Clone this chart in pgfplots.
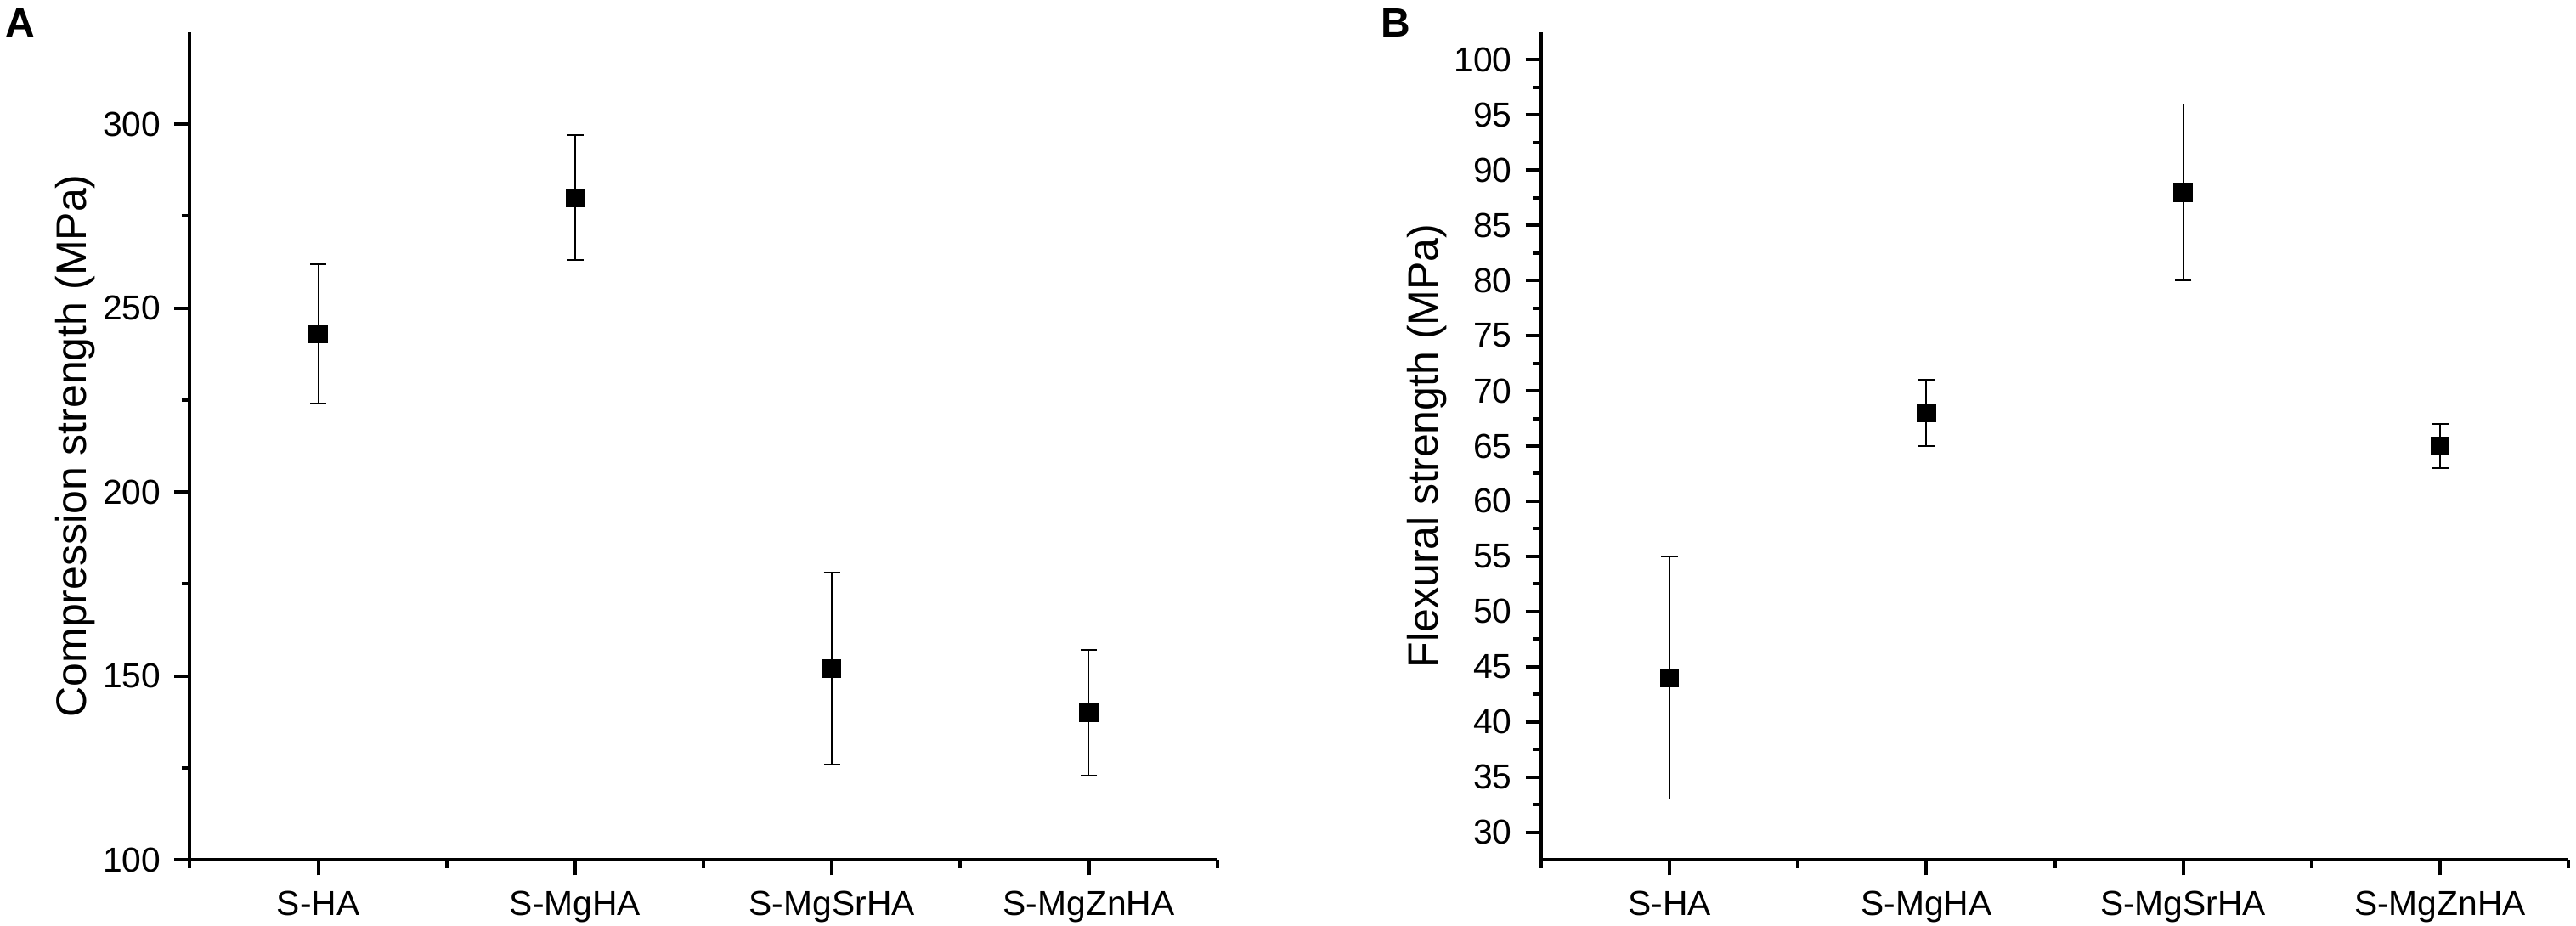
\documentclass[border=0pt]{standalone}
\usepackage{fontspec}
\setmainfont{Liberation Sans}
\usepackage{pgfplots}
\usepackage{pgfplotstable}
\pgfplotsset{compat=1.18}

\pgfplotstableread{
x y e
1 243 19
2 280 17
3 152 26
4 140 17
}\compdata

\pgfplotstableread{
x y e
1 44 11
2 68 3
3 88 8
4 65 2
}\flexdata

\pgfplotsset{
  panel/.style={
    scale only axis,
    width=302.3pt, height=243.5pt,
    axis x line*=bottom, axis y line*=left,
    axis line style={line width=1pt, black},
    tick align=outside,
    major tick length=4.6pt, minor tick length=2.4pt,
    every tick/.style={black, line width=1pt},
    xmin=0.5, xmax=4.5,
    xtick={1,2,3,4},
    xticklabels={S-HA,S-MgHA,S-MgSrHA,S-MgZnHA},
    minor xtick={0.5,1.5,2.5,3.5,4.5},
    /pgf/number format/assume math mode=true,
    ticklabel style={font=\fontsize{10.2}{12}\selectfont},
    yticklabel style={anchor=east, inner sep=0pt, xshift=-3.8pt},
    xticklabel style={anchor=base, inner sep=0pt, yshift=-11.9pt},
    every axis y label/.style={at={(axis description cs:-0.1005,0.5)}, anchor=base, rotate=90, font=\fontsize{12.5}{15}\selectfont},
    clip=false,
  },
  dataplot/.style={
    only marks, mark=square*, mark size=2.6pt, black,
    error bars/.cd, y dir=both, y explicit,
    error bar style={line width=0.45pt, black},
    error mark options={rotate=90, mark size=2.4pt, line width=0.45pt, black},
  },
}

\begin{document}
\begin{tikzpicture}
\begin{axis}[panel, at={(0pt,0pt)}, anchor=south west,
  ymin=100, ymax=325,
  ytick={100,150,200,250,300},
  minor ytick={125,175,225,275},
  ylabel={Compression strength (MPa)}]
\addplot[dataplot] table[x=x, y=y, y error=e] {\compdata};
\end{axis}
\begin{axis}[panel, at={(397.6pt,0pt)}, anchor=south west,
  ymin=27.5, ymax=102.5,
  ytick={30,35,...,100},
  minor y tick num=1,
  ylabel={Flexural strength (MPa)}]
\addplot[dataplot] table[x=x, y=y, y error=e] {\flexdata};
\end{axis}
\node[anchor=base west, inner sep=0pt, font=\fontsize{12}{14}\selectfont\bfseries] at (-54.4pt,242pt) {A};
\node[anchor=base west, inner sep=0pt, font=\fontsize{12}{14}\selectfont\bfseries] at (350.3pt,242pt) {B};
\pgfresetboundingbox
\path (-55.875pt,-19.5pt) rectangle (702.125pt,253pt);
\end{tikzpicture}
\end{document}
